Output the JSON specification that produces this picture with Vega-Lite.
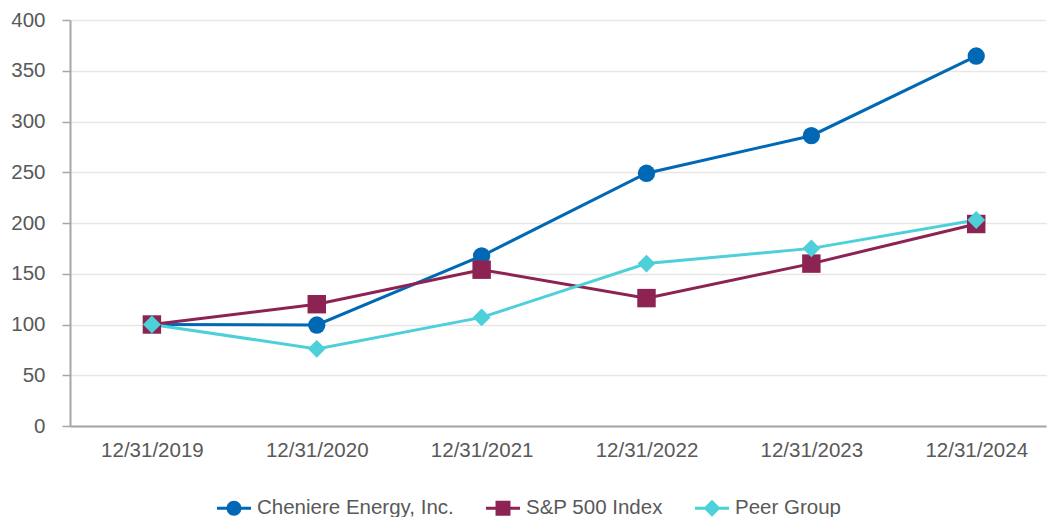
{
  "$schema": "https://vega.github.io/schema/vega-lite/v6.json",
  "autosize": {"type": "none"},
  "width": 976,
  "height": 406,
  "padding": {"left": 70, "top": 20, "right": 2, "bottom": 91},
  "background": "white",
  "config": {
    "font": "Liberation Sans",
    "view": {"stroke": null},
    "legend": {
      "orient": "none",
      "direction": "horizontal",
      "legendX": 147,
      "legendY": 471,
      "labelFontSize": 20.5,
      "labelColor": "#595959",
      "labelLimit": 0,
      "symbolSize": 1156,
      "symbolStrokeWidth": 0,
      "symbolOpacity": 1,
      "labelOffset": 6,
      "columnPadding": 32
    }
  },
  "data": {
    "values": [
      {"date": "12/31/2019", "series": "Cheniere Energy, Inc.", "value": 100},
      {"date": "12/31/2020", "series": "Cheniere Energy, Inc.", "value": 99.5},
      {"date": "12/31/2021", "series": "Cheniere Energy, Inc.", "value": 167.5},
      {"date": "12/31/2022", "series": "Cheniere Energy, Inc.", "value": 249},
      {"date": "12/31/2023", "series": "Cheniere Energy, Inc.", "value": 286},
      {"date": "12/31/2024", "series": "Cheniere Energy, Inc.", "value": 364.5},
      {"date": "12/31/2019", "series": "S&P 500 Index", "value": 100},
      {"date": "12/31/2020", "series": "S&P 500 Index", "value": 120},
      {"date": "12/31/2021", "series": "S&P 500 Index", "value": 154},
      {"date": "12/31/2022", "series": "S&P 500 Index", "value": 126},
      {"date": "12/31/2023", "series": "S&P 500 Index", "value": 160},
      {"date": "12/31/2024", "series": "S&P 500 Index", "value": 199},
      {"date": "12/31/2019", "series": "Peer Group", "value": 100},
      {"date": "12/31/2020", "series": "Peer Group", "value": 76},
      {"date": "12/31/2021", "series": "Peer Group", "value": 107},
      {"date": "12/31/2022", "series": "Peer Group", "value": 160},
      {"date": "12/31/2023", "series": "Peer Group", "value": 175},
      {"date": "12/31/2024", "series": "Peer Group", "value": 203}
    ]
  },
  "encoding": {
    "x": {
      "field": "date",
      "type": "ordinal",
      "sort": null,
      "scale": {"type": "point", "padding": 0.46, "align": 0.54},
      "axis": {
        "title": null,
        "labelAngle": 0,
        "labelFontSize": 20.5,
        "labelColor": "#595959",
        "labelPadding": 14,
        "ticks": false,
        "domainColor": "#A6A6A6",
        "domainWidth": 2,
        "grid": false
      }
    },
    "y": {
      "field": "value",
      "type": "quantitative",
      "scale": {"domain": [0, 400]},
      "axis": {
        "title": null,
        "values": [0, 50, 100, 150, 200, 250, 300, 350, 400],
        "labelFontSize": 20.5,
        "labelColor": "#595959",
        "labelPadding": 17,
        "tickSize": 8,
        "tickColor": "#A6A6A6",
        "tickWidth": 1.5,
        "domainColor": "#A6A6A6",
        "domainWidth": 2,
        "gridColor": "#E6E6E6",
        "gridWidth": 1.5
      }
    }
  },
  "layer": [
    {
      "mark": {"type": "line", "strokeWidth": 3},
      "encoding": {
        "color": {
          "field": "series",
          "type": "nominal",
          "scale": {
            "domain": ["Cheniere Energy, Inc.", "S&P 500 Index", "Peer Group"],
            "range": ["#0068B5", "#8C2352", "#4DD0D9"]
          },
          "legend": {"title": null}
        }
      }
    },
    {
      "mark": {"type": "point", "filled": true, "opacity": 0, "size": 1},
      "encoding": {
        "color": {
          "field": "series",
          "type": "nominal",
          "scale": {
            "domain": ["Cheniere Energy, Inc.", "S&P 500 Index", "Peer Group"],
            "range": ["#0068B5", "#8C2352", "#4DD0D9"]
          },
          "legend": {"title": null}
        },
        "shape": {
          "field": "series",
          "type": "nominal",
          "scale": {
            "domain": ["Cheniere Energy, Inc.", "S&P 500 Index", "Peer Group"],
            "range": [
              "M-1,-0.09H-0.43V0.09H-1Z M0.43,-0.09H1V0.09H0.43Z M-0.44,0A0.44,0.44,0,1,1,0.44,0A0.44,0.44,0,1,1,-0.44,0Z",
              "M-1,-0.09H-0.44V0.09H-1Z M0.44,-0.09H1V0.09H0.44Z M-0.44,-0.44H0.44V0.44H-0.44Z",
              "M-1,-0.09H-0.41V0.09H-1Z M0.41,-0.09H1V0.09H0.41Z M-0.5,0L0,-0.5L0.5,0L0,0.5Z"
            ]
          },
          "legend": {"title": null}
        }
      }
    },
    {
      "transform": [{"filter": {"field": "series", "equal": "Cheniere Energy, Inc."}}],
      "mark": {"type": "point", "filled": true, "opacity": 1, "size": 300, "shape": "circle", "color": "#0068B5"}
    },
    {
      "transform": [{"filter": {"field": "series", "equal": "S&P 500 Index"}}],
      "mark": {"type": "point", "filled": true, "opacity": 1, "size": 340, "shape": "square", "color": "#8C2352"}
    },
    {
      "transform": [{"filter": {"field": "series", "equal": "Peer Group"}}],
      "mark": {"type": "point", "filled": true, "opacity": 1, "size": 320, "shape": "diamond", "color": "#4DD0D9"}
    }
  ]
}
